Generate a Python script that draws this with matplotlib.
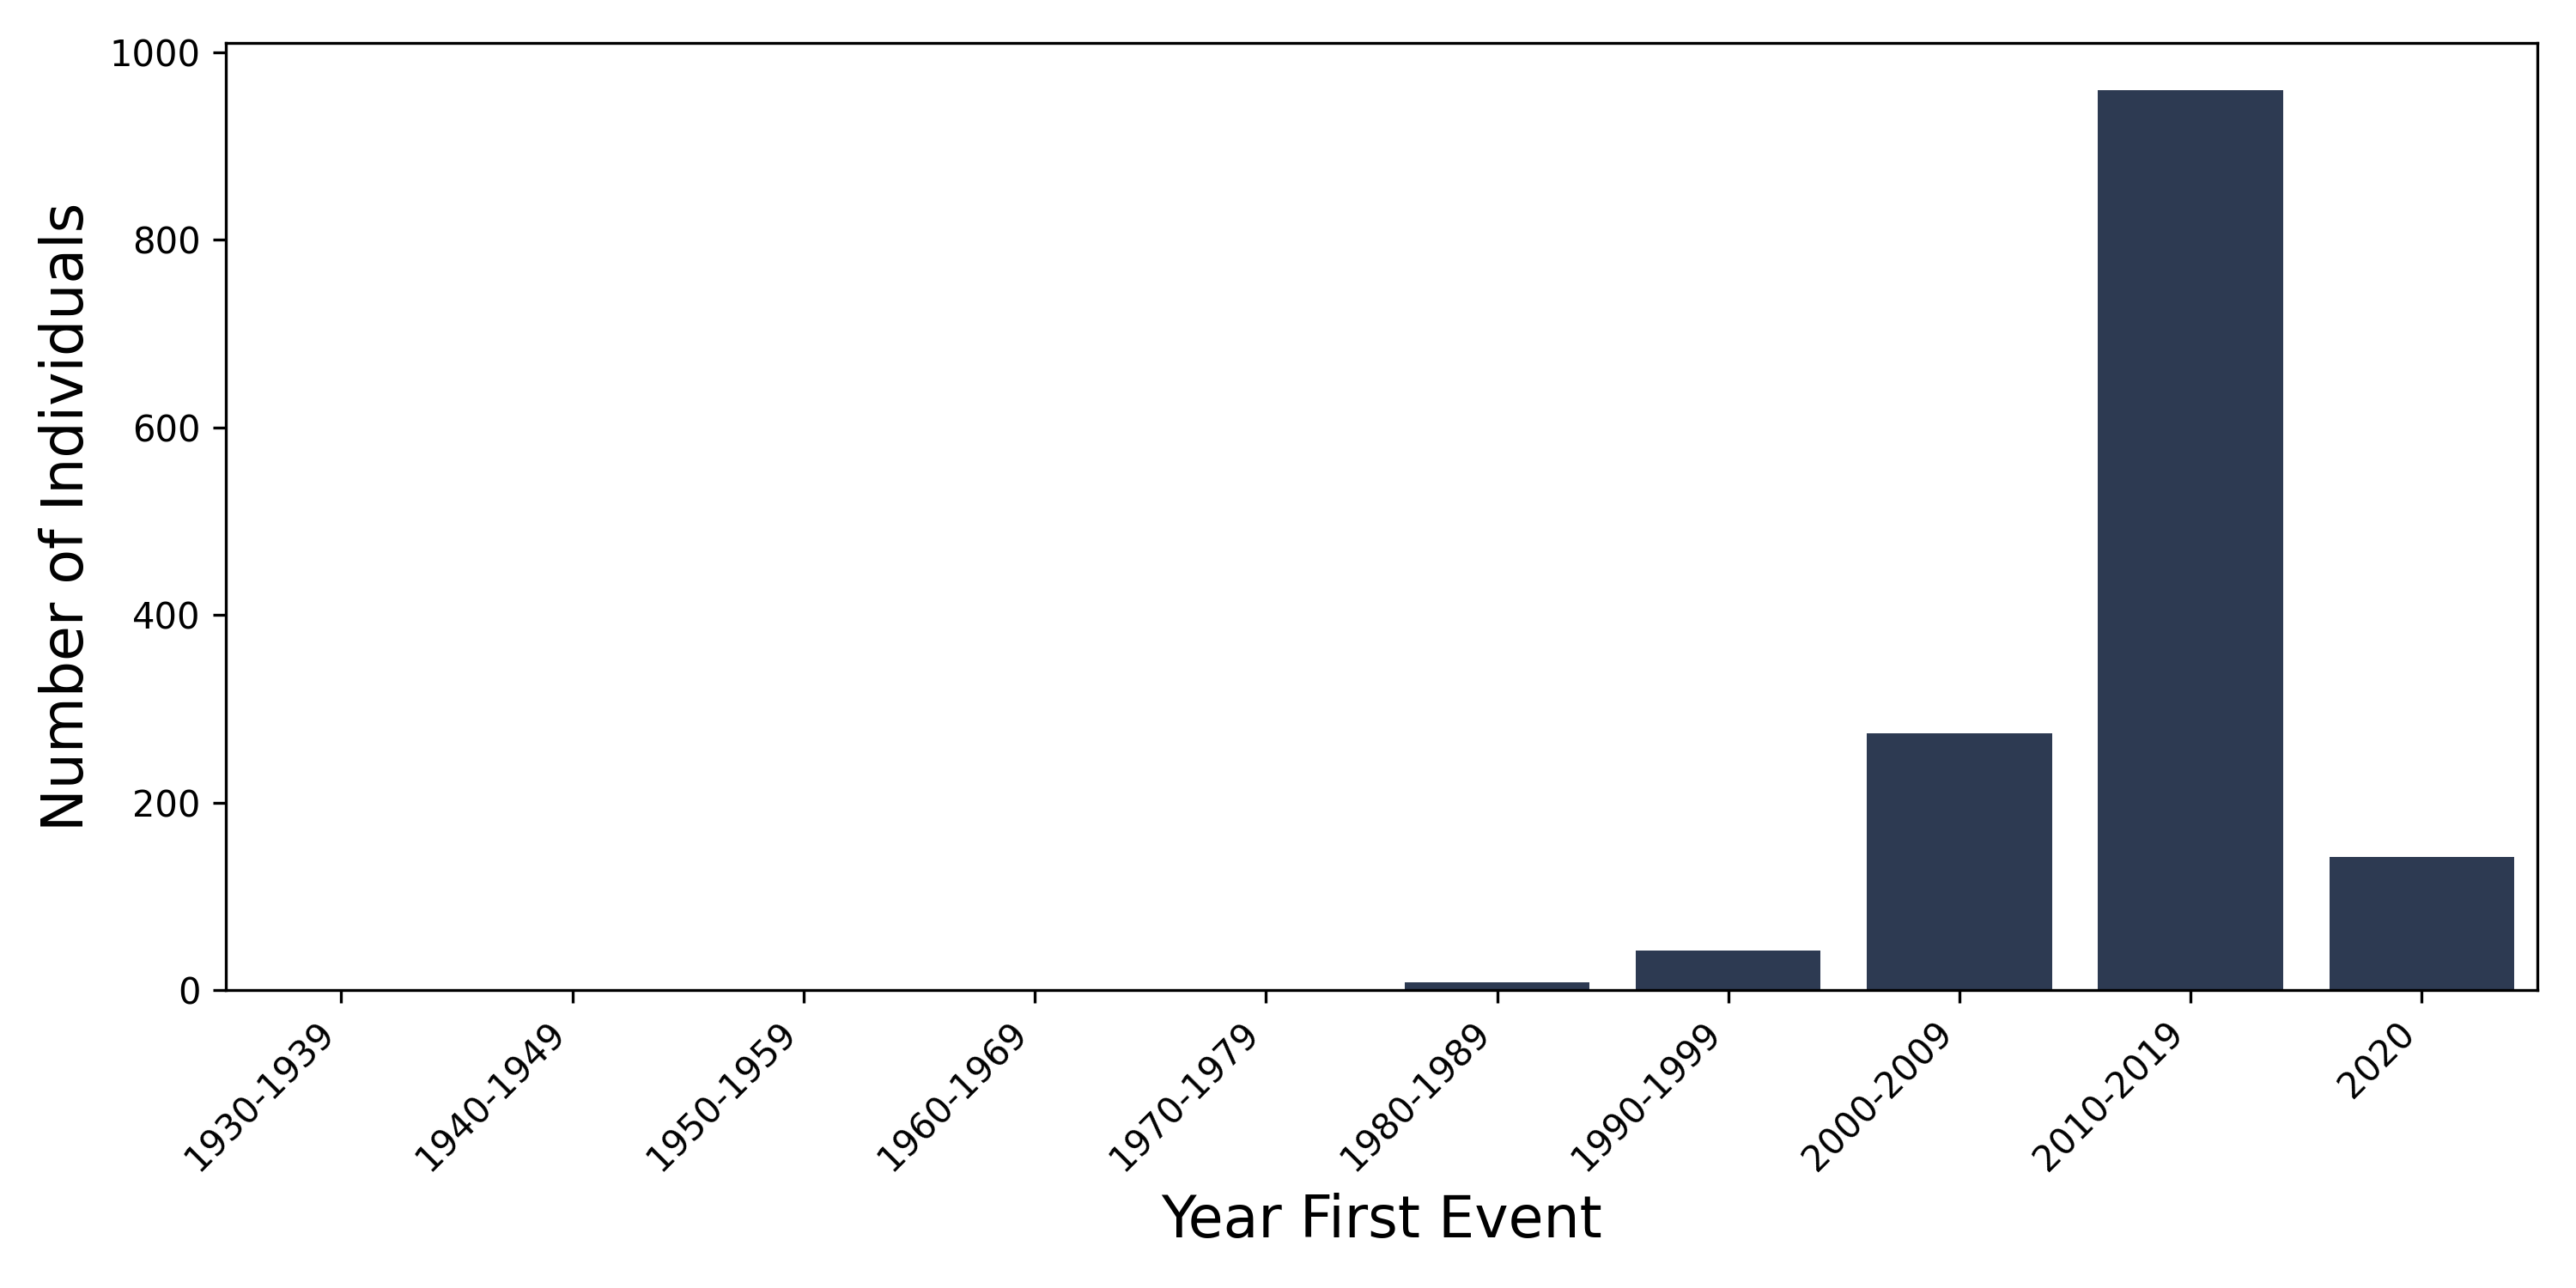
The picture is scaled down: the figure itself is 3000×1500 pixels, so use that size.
import matplotlib.pyplot as plt

decades = ["1930-1939", "1940-1949", "1950-1959", "1960-1969", "1970-1979",
           "1980-1989", "1990-1999", "2000-2009", "2010-2019", "2020"]
counts = [0, 0, 0, 0, 1, 8, 42, 274, 960, 142]

fig, ax = plt.subplots(figsize=(10, 5), dpi=300)
ax.bar(decades, counts, width=0.8, color="#2d3a52")
ax.set_xlim(-0.5, len(decades) - 0.5)
ax.set_ylim(0, 1010)
ax.set_xlabel("Year First Event", fontsize=16)
ax.set_ylabel("Number of Individuals", fontsize=16)
plt.setp(ax.get_xticklabels(), rotation=45, ha="right")
fig.tight_layout()
fig.savefig("out.png")
